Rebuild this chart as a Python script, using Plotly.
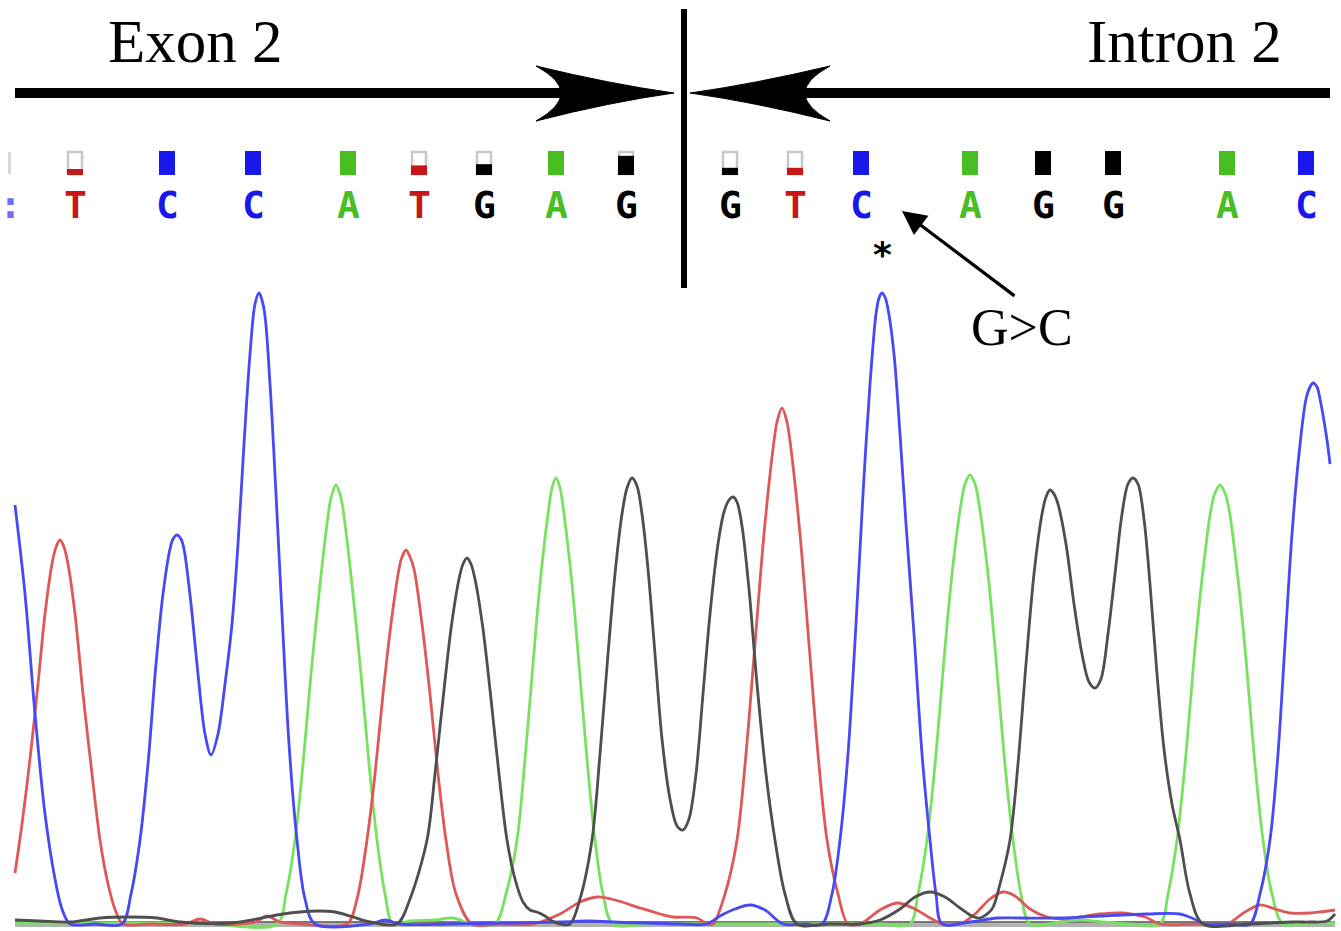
import plotly.graph_objects as go

# ---------------- data ----------------
# signal traces: scan position, fluorescence intensity (baseline = 0)
blue_x = [15, 25, 35, 45, 55, 62, 70, 95, 122, 131, 140, 148, 156, 163, 170, 173, 177, 181, 184, 191, 198, 205, 211,
          218, 225, 232, 238, 244, 250, 255, 259, 264, 270, 276, 282, 289, 297, 305, 315, 370, 385, 400, 450,
          560, 590, 613, 680, 707, 720, 735, 750, 765, 783, 805, 822, 832, 840, 848, 856, 863, 870, 876, 879, 882,
          885, 888, 894, 900, 906, 914, 922, 930, 936, 942, 970, 997, 1020, 1060, 1100, 1147, 1180, 1192, 1205,
          1230, 1250, 1260, 1270, 1278, 1285, 1292, 1299, 1306, 1310, 1313, 1317, 1320, 1327, 1330]
blue_y = [419, 330, 210, 110, 45, 15, 0, 0, 0, 30, 84, 160, 260, 330, 375, 385, 389, 385, 375, 320, 250, 190, 169,
          190, 240, 300, 380, 480, 570, 620, 631, 615, 540, 430, 310, 180, 84, 25, 0, 0, 4, 0, 0,
          2, 3, 2, 0, 0, 8, 15, 19, 14, 0, 0, 0, 30, 84, 170, 300, 430, 540, 610, 626, 631,
          627, 615, 570, 490, 400, 290, 170, 84, 30, 0, 2, 6, 6, 6, 8, 10, 10, 6, 0,
          0, 0, 30, 84, 170, 280, 390, 470, 525, 537, 541, 537, 525, 484, 460]

red_x = [15, 22, 30, 38, 45, 52, 56, 60, 64, 68, 75, 83, 92, 100, 108, 116, 123, 150, 185, 200, 215, 255, 267, 280,
         300, 347, 357, 367, 375, 383, 391, 399, 402, 406, 410, 414, 422, 430, 438, 446, 456, 472, 500, 533, 560, 580,
         597, 615, 640, 660, 673, 697, 707, 713, 725, 737, 746, 755, 764, 773, 777, 782, 787, 791, 800, 809, 818, 827,
         838, 848, 860, 880, 897, 915, 930, 943, 960, 975, 990, 1003, 1015, 1030, 1047, 1065, 1080, 1100,
         1123, 1145, 1160, 1200, 1227, 1245, 1260, 1275, 1290, 1310, 1320, 1335]
red_y = [51, 100, 165, 240, 310, 360, 377, 384, 377, 360, 310, 230, 150, 84, 40, 12, 0, 0, 0, 5, 0, 2, 8, 2,
         0, 0, 25, 84, 150, 230, 300, 355, 367, 374, 367, 355, 300, 230, 150, 84, 30, 0, 0, 0, 10, 22,
         27, 24, 16, 10, 7, 6, 0, 0, 30, 84, 170, 280, 390, 475, 502, 516, 502, 475, 390, 280, 170, 84,
         30, 0, 0, 14, 21, 15, 6, 0, 0, 10, 25, 32, 28, 15, 7, 5, 7, 10,
         11, 7, 0, 0, 0, 12, 19, 15, 11, 11, 12, 14]

black_x = [15, 40, 70, 100, 128, 157, 180, 230, 283, 300, 318, 335, 350, 370, 397, 410, 427, 435, 443, 451,
           459, 463, 467, 471, 475, 483, 491, 499, 507, 515, 523, 530, 537, 545, 552, 560, 570, 580, 592, 600,
           608, 615, 622, 627, 632, 637, 642, 648, 655, 662, 670, 677, 683, 689, 696, 703, 710, 718, 724, 729,
           733, 737, 742, 749, 757, 766, 775, 785, 797, 830, 860, 880, 900, 915, 930, 945, 960, 972, 980, 992,
           1000, 1010, 1018, 1026, 1034, 1042, 1046, 1050, 1054, 1058, 1066, 1074, 1082, 1089, 1095, 1101,
           1108, 1115, 1122, 1128, 1133, 1138, 1144, 1150, 1157, 1164, 1172, 1180, 1190, 1203, 1250, 1293,
           1310, 1327, 1335]
black_y = [4, 3, 2, 6, 7, 6, 2, 1, 10, 12, 13, 12, 8, 2, 0, 25, 84, 150, 225, 295,
           345, 360, 366, 360, 345, 295, 225, 150, 84, 45, 22, 14, 12, 8, 3, 0, 0, 25, 84, 170,
           270, 350, 410, 436, 446, 438, 410, 355, 270, 185, 125, 98, 94, 105, 150, 230, 310, 380, 412, 424,
           427, 422, 398, 335, 240, 150, 84, 30, 0, 0, 0, 4, 15, 27, 32, 27, 16, 8, 6, 15,
           40, 84, 160, 260, 350, 410, 427, 434, 430, 420, 380, 320, 270, 242, 236, 245,
           290, 350, 410, 440, 446, 440, 405, 340, 250, 175, 120, 84, 30, 0, 0, 2,
           2, 3, 10]

green_x = [15, 100, 200, 277, 286, 295, 303, 311, 319, 327, 331, 336, 341, 345, 353, 361, 369, 377, 385, 393, 410,
           435, 453, 472, 495, 506, 517, 525, 533, 540, 548, 552, 556, 560, 564, 572, 579, 587, 595, 603, 613, 650,
           700, 800, 880, 910, 918, 927, 936, 944, 952, 961, 965, 970, 975, 979, 988, 996, 1004, 1013, 1021, 1030,
           1060, 1080, 1103, 1130, 1160, 1168, 1177, 1186, 1194, 1202, 1211, 1215, 1220, 1225, 1229, 1238, 1246,
           1254, 1263, 1272, 1283, 1310, 1335]
green_y = [1, 1, 1, 0, 30, 84, 160, 250, 330, 400, 426, 439, 426, 400, 330, 250, 160, 84, 30, 0, 3,
           4, 6, 0, 0, 30, 84, 165, 260, 340, 410, 436, 446, 436, 410, 340, 260, 165, 84, 30, 0, 0,
           0, 0, 0, 0, 30, 84, 170, 265, 350, 420, 440, 449, 440, 420, 350, 265, 170, 84, 30, 0,
           2, 4, 2, 0, 0, 30, 84, 170, 265, 345, 415, 431, 439, 431, 415, 345, 265,
           170, 84, 30, 0, 1, 1]

baseline_x = [15, 1335]
baseline_y = [0, 0]

# base calls (the first call is clipped at the left edge and shows only as ':')
bases = [":", "T", "C", "C", "A", "T", "G", "A", "G", "G", "T", "C", "A", "G", "G", "A", "C"]
base_pos = [10, 75, 167, 253, 348, 419, 484, 556, 626, 730, 795, 861, 970, 1043, 1113, 1227, 1306]
base_quality = [0.0, 0.25, 1, 1, 1, 0.4, 0.45, 1, 0.8, 0.3, 0.3, 1, 1, 1, 1, 1, 1]

region_labels = ["Exon 2", "Intron 2"]
mutation_label = "G>C"
mutation_mark = "*"

# ---------------- styling ----------------
W, H = 1341, 931
TOP = 924  # intensity value at the top edge of the picture


def Y(py):
    """convert a vertical picture offset (from top) to the y-axis value"""
    return TOP - py


trace_color = {"A": "rgb(120,226,96)", "C": "rgb(72,72,246)", "G": "rgb(78,78,78)", "T": "rgb(222,88,88)"}
call_color = {"A": "rgb(72,190,34)", "C": "rgb(24,24,236)", "G": "rgb(0,0,0)", "T": "rgb(200,22,22)",
              ":": "rgb(110,110,250)"}

fig = go.Figure()
fig.add_trace(go.Scatter(x=baseline_x, y=baseline_y, mode="lines",
                         line=dict(color="rgb(178,178,178)", width=6), hoverinfo="skip"))
fig.add_trace(go.Scatter(x=baseline_x, y=[v + 2 for v in baseline_y], mode="lines",
                         line=dict(color="rgb(100,100,100)", width=1.5), hoverinfo="skip"))
for base, xs, ys in [("A", green_x, green_y), ("T", red_x, red_y),
                     ("C", blue_x, blue_y), ("G", black_x, black_y)]:
    fig.add_trace(go.Scatter(x=xs, y=ys, mode="lines", name=base,
                             line=dict(color=trace_color[base], width=2.8, shape="spline", smoothing=0.9)))

shapes = []
# divider line
shapes.append(dict(type="line", xref="x", yref="y", x0=684, x1=684, y0=Y(288), y1=Y(9),
                   line=dict(color="black", width=6)))
# shafts
shapes.append(dict(type="line", xref="x", yref="y", x0=15, x1=570, y0=Y(93), y1=Y(93),
                   line=dict(color="black", width=10)))
shapes.append(dict(type="line", xref="x", yref="y", x0=795, x1=1330, y0=Y(93), y1=Y(93),
                   line=dict(color="black", width=10)))


def head(tip, back, sign):
    # barbed arrowhead; sign=+1 points right, -1 points left
    mid = tip - sign * 64
    notch = back + sign * 50
    return (f"M {tip},{Y(93)} Q {mid},{Y(84)} {back},{Y(66)} "
            f"Q {notch},{Y(93)} {back},{Y(121)} Q {mid},{Y(102)} {tip},{Y(93)} Z")


shapes.append(dict(type="path", xref="x", yref="y", path=head(674, 536, 1),
                   fillcolor="black", line=dict(color="black", width=1)))
shapes.append(dict(type="path", xref="x", yref="y", path=head(690, 830, -1),
                   fillcolor="black", line=dict(color="black", width=1)))

# quality boxes
qw, qtop, qbot = 8, Y(151), Y(175)
for b, xp, q in zip(bases, base_pos, base_quality):
    if b == ":":
        # only the right edge of the clipped box is visible
        shapes.append(dict(type="rect", xref="x", yref="y", x0=xp - 2, x1=xp + 1, y0=qbot + 1, y1=qtop - 1,
                           fillcolor="rgb(215,215,215)", line=dict(width=0)))
    elif q >= 1:
        shapes.append(dict(type="rect", xref="x", yref="y", x0=xp - qw, x1=xp + qw, y0=qbot, y1=qtop,
                           fillcolor=call_color[b], line=dict(width=0)))
    else:
        shapes.append(dict(type="rect", xref="x", yref="y", x0=xp - qw + 1, x1=xp + qw - 1,
                           y0=qbot + 1, y1=qtop - 1, fillcolor="white",
                           line=dict(color="rgb(200,200,200)", width=2.5)))
        if q > 0:
            shapes.append(dict(type="rect", xref="x", yref="y", x0=xp - qw, x1=xp + qw,
                               y0=qbot, y1=qbot + q * (qtop - qbot),
                               fillcolor=call_color[b], line=dict(width=0)))

annotations = []
for b, xp in zip(bases, base_pos):
    annotations.append(dict(x=xp, y=Y(205), xref="x", yref="y", text=f"<b>{b}</b>", showarrow=False,
                            font=dict(family="DejaVu Sans Mono", size=38, color=call_color[b])))

annotations.append(dict(x=195, y=Y(41), xref="x", yref="y", text=region_labels[0], showarrow=False,
                        font=dict(family="Liberation Serif", size=61, color="black")))
annotations.append(dict(x=1184, y=Y(41), xref="x", yref="y", text=region_labels[1], showarrow=False,
                        font=dict(family="Liberation Serif", size=61, color="black")))
annotations.append(dict(x=1022, y=Y(327), xref="x", yref="y", text=mutation_label, showarrow=False,
                        font=dict(family="Liberation Serif", size=52, color="black")))
annotations.append(dict(x=882, y=Y(254), xref="x", yref="y", text=f"<b>{mutation_mark}</b>", showarrow=False,
                        font=dict(family="DejaVu Sans", size=36, color="black")))
annotations.append(dict(x=902, y=Y(211), ax=1016, ay=Y(297), xref="x", yref="y", axref="x", ayref="y",
                        text="", showarrow=True, arrowhead=2, arrowsize=1.5, arrowwidth=3.2,
                        arrowcolor="black", standoff=0))

fig.update_layout(
    width=W, height=H, margin=dict(l=0, r=0, t=0, b=0),
    paper_bgcolor="white", plot_bgcolor="white", showlegend=False,
    xaxis=dict(range=[0, W], visible=False, fixedrange=True),
    yaxis=dict(range=[TOP - H, TOP], visible=False, fixedrange=True),
    shapes=shapes, annotations=annotations,
)

fig.write_html("out.html", post_script="document.body.style.margin='0';",
               config={"displayModeBar": False})
